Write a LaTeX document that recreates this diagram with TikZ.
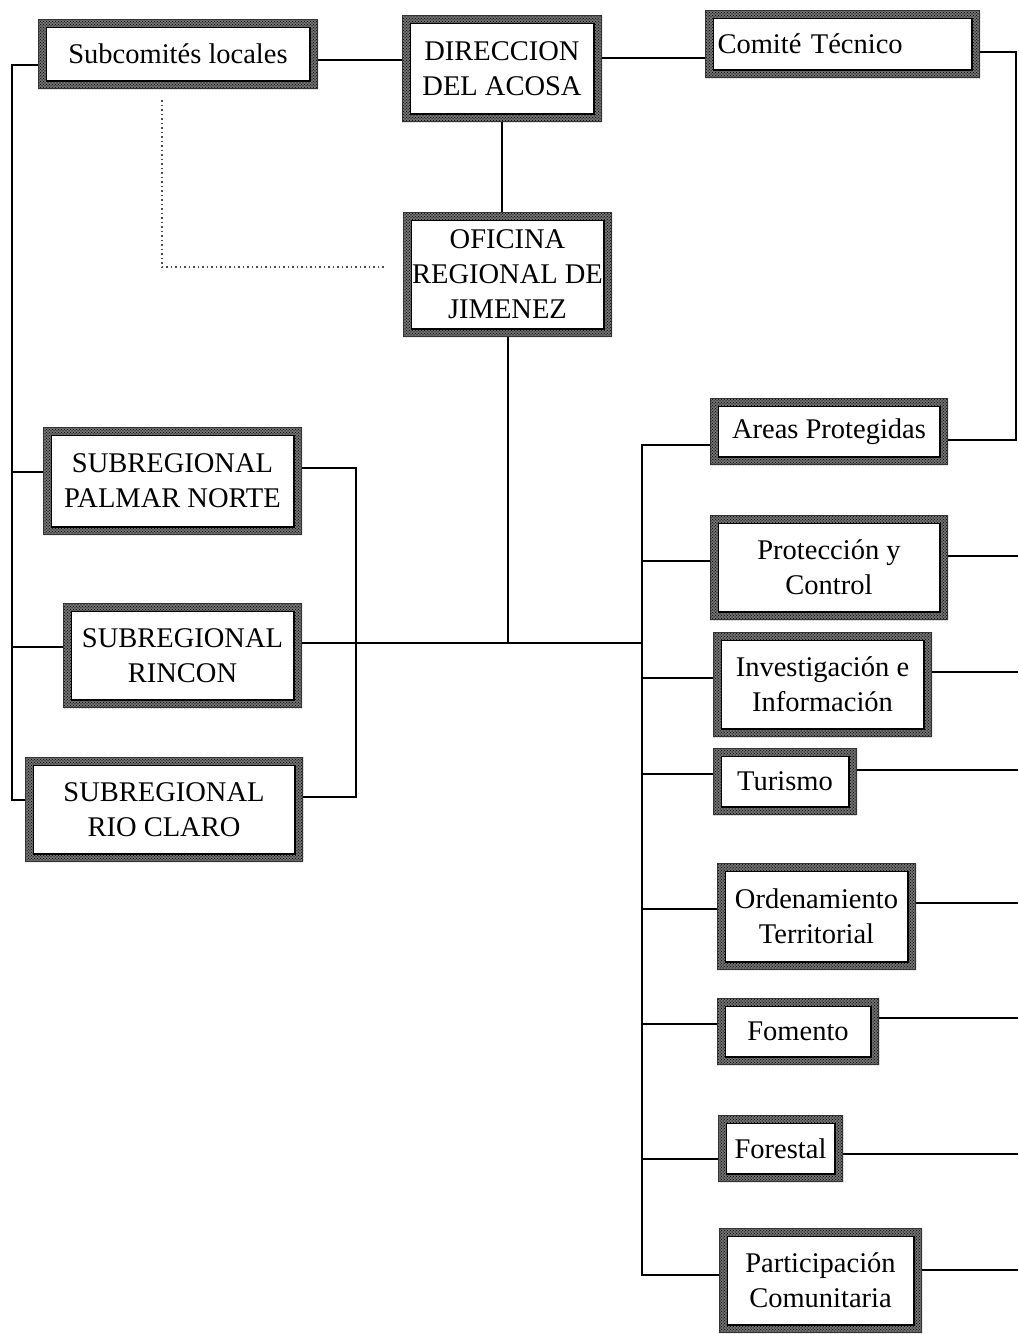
\documentclass[tikz,border=0pt]{standalone}
\usepackage{fontspec}
\setmainfont{Liberation Serif}
\usetikzlibrary{calc,backgrounds,patterns}
\newcommand\boxfrm[1]{%
  \fill[black!55,even odd rule] (#1.south west) rectangle (#1.north east)
     ([shift={(9pt,9pt)}]#1.south west) rectangle ([shift={(-9pt,-9pt)}]#1.north east);
  \fill[pattern=crosshatch dots,pattern color=black,even odd rule] (#1.south west) rectangle (#1.north east)
     ([shift={(9pt,9pt)}]#1.south west) rectangle ([shift={(-9pt,-9pt)}]#1.north east);
  \fill[pattern=dots,pattern color=black!90,even odd rule] (#1.south west) rectangle (#1.north east)
     ([shift={(9pt,9pt)}]#1.south west) rectangle ([shift={(-9pt,-9pt)}]#1.north east);
  \fill[white] ([shift={(9pt,9pt)}]#1.south west) rectangle ([shift={(-9pt,-9pt)}]#1.north east);
  \draw[black,line width=1.6pt] ([shift={(8.3pt,8.3pt)}]#1.south west) rectangle ([shift={(-8.3pt,-8.3pt)}]#1.north east);
  \draw[black!80,line width=0.8pt] ([shift={(0.4pt,0.4pt)}]#1.south west) rectangle ([shift={(-0.4pt,-0.4pt)}]#1.north east);
}
\begin{document}
\begin{tikzpicture}[x=1pt,y=-1pt,
  bx/.style 2 args={minimum width=#1, minimum height=#2, inner sep=0pt, outer sep=0pt,
     align=center, font=\fontsize{28.5}{35}\selectfont},
  conn/.style={line width=2pt, black},
  dotline/.style={line width=1.6pt, black!70, dash pattern=on 1.5pt off 3pt}]
\useasboundingbox (0,0) rectangle (1018,1334);

% boxes
\node[bx={280}{70}] (sub) at (178,54) {Subcomités locales};
\node[bx={200}{107}] (dir) at (502,68.5) {DIRECCION\\DEL ACOSA};
\node[bx={275}{68}, text width=250pt, align=left] (com) at (842.5,44) {Comité Técnico};
\node[bx={209}{125}] (ofi) at (507.5,274.5) {OFICINA\\REGIONAL DE\\JIMENEZ};
\node[bx={259}{108}] (pal) at (172.5,481) {SUBREGIONAL\\PALMAR NORTE};
\node[bx={239}{105}] (rin) at (182.5,655.5) {SUBREGIONAL\\RINCON};
\node[bx={278}{105}] (rio) at (164,809.5) {SUBREGIONAL\\RIO CLARO};
\node[bx={238}{67}] (are) at (829,431.5) {Areas Protegidas};
\node[bx={238}{105}] (pro) at (829,567.5) {Protección y\\Control};
\node[bx={219}{105}] (inv) at (822.5,684.5) {Investigación e\\Información};
\node[bx={144}{67}] (tur) at (785,781.5) {Turismo};
\node[bx={199}{107}] (ord) at (816.5,916.5) {Ordenamiento\\Territorial};
\node[bx={162}{67}] (fom) at (798,1031.5) {Fomento};
\node[bx={125}{67}] (fo) at (780.5,1148.5) {Forestal};
\node[bx={203}{105}] (par) at (820.5,1280.5) {Participación\\Comunitaria};

\begin{pgfonlayer}{background}
\foreach \n in {sub,dir,com,ofi,pal,rin,rio,are,pro,inv,tur,ord,fom,fo,par}{\boxfrm{\n}}
\end{pgfonlayer}

% junction coordinates
\coordinate (L) at (12,800);
\coordinate (B) at (356,643);
\coordinate (T) at (642,643);
\coordinate (R) at (1016,440);
\coordinate (E) at (1018,0);
\coordinate (d1) at (162,100);
\coordinate (d2) at (385,267);

% top
\draw[conn] ($(sub.east)+(0,6)$) -- ($(dir.west)+(0,-8.5)$);
\draw[conn] ($(dir.east)+(0,-10.5)$) -- ($(com.west)+(0,14)$);
\draw[conn] ($(com.east)+(0,8)$) -| (R) -- ($(are.east)+(0,8.5)$);
\draw[conn] (dir.south) -- (dir.south |- ofi.north);
\draw[dotline] (d1) |- (d2);

% left group
\draw[conn] ($(sub.west)+(0,11)$) -| (L) -- ($(rio.west)+(0,-9.5)$);
\draw[conn] ($(pal.west)+(0,-9)$) -- ($(L|-pal.west)+(0,-9)$);
\draw[conn] ($(rin.west)+(0,-8.5)$) -- ($(L|-rin.west)+(0,-8.5)$);
\draw[conn] ($(pal.east)+(0,-13)$) -- ($(B|-pal.east)+(0,-13)$) -- ($(B|-rio.east)+(0,-12.5)$) -- ($(rio.east)+(0,-12.5)$);
\draw[conn] ($(rin.east)+(0,-12.5)$) -- (T);
\draw[conn] (ofi.south) -- (ofi.south |- T);

% right trunk
\draw[conn] ($(are.west)+(0,13.5)$) -- ($(T|-are.west)+(0,13.5)$) -- ($(T|-par.west)+(0,-5.5)$) -- ($(par.west)+(0,-5.5)$);
\foreach \n/\a in {pro/-6.5, inv/-6.5, tur/-7.5, ord/-7.5, fom/-7.5, fo/10.5}{
  \draw[conn] ($(T|-\n.west)+(0,\a)$) -- ($(\n.west)+(0,\a)$);
}
\foreach \n/\b in {pro/-11.5, inv/-12.5, tur/-11.5, ord/-13.5, fom/-13.5, fo/5.5, par/-10.5}{
  \draw[conn] ($(\n.east)+(0,\b)$) -- ($(E|-\n.east)+(0,\b)$);
}
\end{tikzpicture}
\end{document}
